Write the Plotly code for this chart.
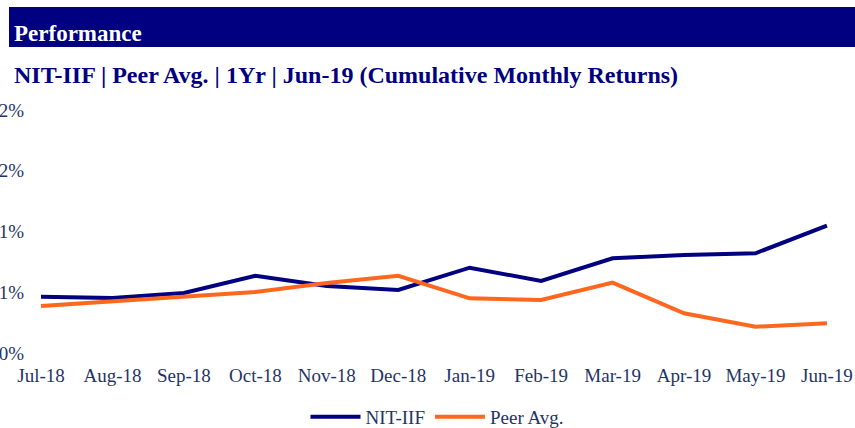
import plotly.graph_objects as go

months = ["Jul-18", "Aug-18", "Sep-18", "Oct-18", "Nov-18", "Dec-18",
          "Jan-19", "Feb-19", "Mar-19", "Apr-19", "May-19", "Jun-19"]
nit_iif = [0.00463, 0.00453, 0.00494, 0.00636, 0.00551, 0.00519,
           0.00702, 0.00593, 0.00779, 0.00807, 0.00821, 0.01048]
peer_avg = [0.00387, 0.00428, 0.00461, 0.00502, 0.00576, 0.00636,
            0.00450, 0.00436, 0.00579, 0.00327, 0.00216, 0.00244]
y_tickvals = [0, 0.005, 0.01, 0.015, 0.02]
y_ticktext = ["0%", "1%", "1%", "2%", "2%"]

NAVY = "#000080"
ORANGE = "#FF671F"
TXT = "#1F3466"
FONT = "Liberation Serif"

W, H = 855, 428
ml, mr, mt, mb = 25, 6, 110, 75
pw, ph = W - ml - mr, H - mt - mb
step = 71.45  # px per category

def px_x(x):
    return (x - ml) / pw

def px_y(y):
    return (H - mb - y) / ph

x0 = -(41 - ml) / step
x1 = (W - mr - 41) / step

fig = go.Figure()
fig.add_trace(go.Scatter(x=months, y=nit_iif, mode="lines", name="NIT-IIF",
                         line=dict(color=NAVY, width=4)))
fig.add_trace(go.Scatter(x=months, y=peer_avg, mode="lines", name="Peer Avg.",
                         line=dict(color=ORANGE, width=4)))

fig.update_layout(
    width=W, height=H,
    margin=dict(l=ml, r=mr, t=mt, b=mb, autoexpand=False),
    paper_bgcolor="white", plot_bgcolor="white",
    font=dict(family=FONT, size=19, color=TXT),
    showlegend=True,
    legend=dict(orientation="h", x=0.5, xanchor="center", y=px_y(398), yanchor="top",
                font=dict(family=FONT, size=19, color=TXT), itemwidth=50),
    xaxis=dict(type="category", range=[x0, x1], showgrid=False, zeroline=False,
               showline=False, ticks="", automargin=False, ticklabelstandoff=9,
               tickfont=dict(family=FONT, size=19, color=TXT)),
    yaxis=dict(range=[0, 0.02], tickvals=y_tickvals, ticktext=y_ticktext,
               showgrid=False, zeroline=False, showline=False, ticks="", automargin=False,
               tickfont=dict(family=FONT, size=19, color=TXT)),
    shapes=[dict(type="rect", xref="paper", yref="paper",
                 x0=px_x(9), x1=px_x(856), y0=px_y(47), y1=px_y(7),
                 fillcolor=NAVY, line=dict(width=0), layer="above")],
    annotations=[
        dict(text="<b>Performance</b>", xref="paper", yref="paper",
             x=px_x(12), y=px_y(33), xanchor="left", yanchor="middle",
             showarrow=False, font=dict(family=FONT, size=23, color="white")),
        dict(text="<b>NIT-IIF | Peer Avg. | 1Yr | Jun-19 (Cumulative Monthly Returns)</b>",
             xref="paper", yref="paper", x=px_x(12), y=px_y(75),
             xanchor="left", yanchor="middle", showarrow=False,
             font=dict(family=FONT, size=24, color=NAVY)),
    ],
)

fig.write_html("out.html", config={"displayModeBar": False},
               post_script="document.body.style.margin='0';document.body.style.overflow='hidden';")
